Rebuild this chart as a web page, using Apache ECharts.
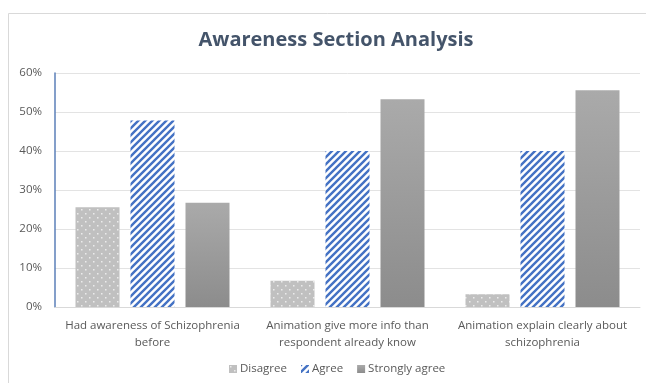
<!DOCTYPE html>
<html>
<head>
<meta charset="utf-8">
<script src="https://cdn.jsdelivr.net/npm/echarts@6/dist/echarts.min.js"></script>
<style>
  html, body { margin: 0; padding: 0; background: #fff; }
  #chart { width: 646px; height: 383px; }
</style>
</head>
<body>
<div id="chart"></div>
<script>
const categories = [
  'Had awareness of Schizophrenia\nbefore',
  'Animation give more info than\nrespondent already know',
  'Animation explain clearly about\nschizophrenia'
];
const seriesNames = ['Disagree', 'Agree', 'Strongly agree'];
const disagree = [25.6, 6.7, 3.3];
const agree = [47.8, 40.0, 40.0];
const stronglyAgree = [26.7, 53.3, 55.6];
const yTicks = [0, 10, 20, 30, 40, 50, 60];
const chartTitle = 'Awareness Section Analysis';

// Gray tile with small white dots
function dotPattern() {
  const c = document.createElement('canvas');
  c.width = 8; c.height = 8;
  const g = c.getContext('2d');
  g.fillStyle = '#c0c0c0';
  g.fillRect(0, 0, 8, 8);
  g.fillStyle = '#ebebeb';
  g.fillRect(1, 1, 1.5, 1.5);
  g.fillRect(5, 5, 1.5, 1.5);
  return c;
}

// Blue diagonal stripes on white
function stripePattern() {
  const s = 7;
  const c = document.createElement('canvas');
  c.width = s; c.height = s;
  const g = c.getContext('2d');
  g.fillStyle = '#ffffff';
  g.fillRect(0, 0, s, s);
  g.strokeStyle = '#4472c4';
  g.lineWidth = 2.4;
  g.beginPath();
  g.moveTo(-1, s + 1); g.lineTo(s + 1, -1);
  g.moveTo(-1, 1); g.lineTo(1, -1);
  g.moveTo(s - 1, s + 1); g.lineTo(s + 1, s - 1);
  g.stroke();
  return c;
}

const dotFill = { image: dotPattern(), repeat: 'repeat' };
const stripeFill = { image: stripePattern(), repeat: 'repeat' };
const grayGradient = {
  type: 'linear', x: 0, y: 0, x2: 0, y2: 1,
  colorStops: [
    { offset: 0, color: '#aaaaaa' },
    { offset: 1, color: '#8c8c8c' }
  ]
};

const chart = echarts.init(document.getElementById('chart'), null, { renderer: 'canvas' });
const fontFamily = 'Open Sans, sans-serif';

chart.setOption({
  animation: false,
  backgroundColor: '#ffffff',
  graphic: [
    {
      type: 'rect',
      shape: { x: 8.5, y: 13.5, width: 660, height: 400 },
      style: { fill: 'none', stroke: '#d9d9d9', lineWidth: 1 },
      z: -1
    },
    {
      type: 'text',
      x: 336,
      y: 30,
      style: {
        text: chartTitle,
        textAlign: 'center',
        fontFamily,
        fontSize: 20,
        fontWeight: 'bold',
        fill: '#44546a'
      }
    }
  ],
  legend: {
    bottom: 3,
    left: 224,
    itemWidth: 8,
    itemHeight: 8,
    itemGap: 14,
    textStyle: { fontFamily, fontSize: 11.5, color: '#595959', padding: [0, 0, 0, -2] },
    data: seriesNames.map(n => ({ name: n, icon: 'rect' }))
  },
  grid: { left: 55, right: 6, top: 73, bottom: 76 },
  xAxis: {
    type: 'category',
    data: categories,
    axisTick: { show: false },
    axisLine: { lineStyle: { color: '#d9d9d9' } },
    axisLabel: { interval: 0, fontFamily, fontSize: 11.5, color: '#595959', lineHeight: 17, margin: 10 }
  },
  yAxis: {
    type: 'value',
    min: 0,
    max: yTicks[yTicks.length - 1],
    interval: 10,
    axisLine: { show: true, lineStyle: { color: '#5b7fb8', width: 1.5 } },
    axisTick: { show: false },
    splitLine: { lineStyle: { color: '#e3e3e3' } },
    axisLabel: { fontFamily, fontSize: 11.5, color: '#595959', formatter: v => v + '%', margin: 13 }
  },
  series: [
    { name: seriesNames[0], type: 'bar', data: disagree, barWidth: 44, barGap: '25%', itemStyle: { color: dotFill } },
    { name: seriesNames[1], type: 'bar', data: agree, barWidth: 44, barGap: '25%', itemStyle: { color: stripeFill } },
    { name: seriesNames[2], type: 'bar', data: stronglyAgree, barWidth: 44, barGap: '25%', itemStyle: { color: grayGradient } }
  ]
});
</script>
</body>
</html>
